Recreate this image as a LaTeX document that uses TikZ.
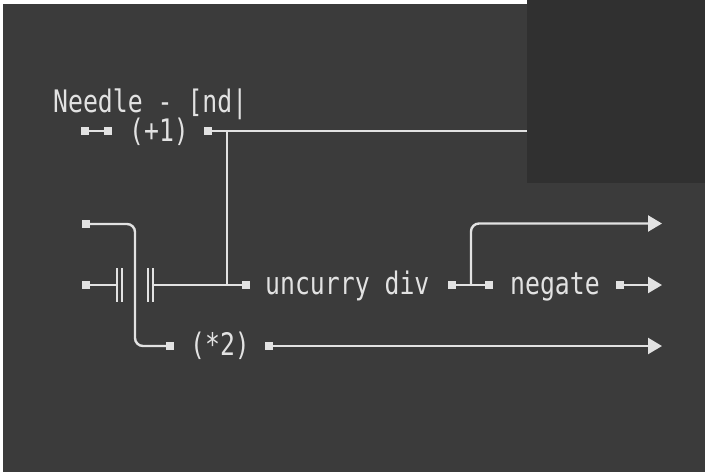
\documentclass[tikz,border=0pt]{standalone}
\usepackage{fontspec}
\usetikzlibrary{arrows.meta}
\newfontfamily\codefont[FakeStretch=0.80]{DejaVu Sans Mono}
\definecolor{bgc}{HTML}{3B3B3B}
\definecolor{panelc}{HTML}{303030}
\definecolor{fgc}{HTML}{E2E2E2}
\begin{document}
\begin{tikzpicture}[x=1pt,y=-1pt,
  port/.style={rectangle,fill=fgc,draw=none,minimum size=7.5pt,inner sep=0pt},
  lbl/.style={anchor=base west,inner sep=0pt,text=fgc,font=\codefont\fontsize{31}{36}\selectfont},
  wire/.style={draw=fgc,line width=2.4pt},
  arr/.style={wire,-{Triangle[length=14pt,width=16pt]}},
  capbar/.style={rectangle,draw=none,minimum width=5pt,minimum height=33pt,inner sep=0pt}]
% background
\fill[white] (0,0) rectangle (705,472);
\fill[bgc] (3,4) rectangle (705,472);
\useasboundingbox (0,0) rectangle (705,472);

% title
\node[lbl] (title) at (53,112) {Needle - [nd|};

% row 1
\node[port] (p1a) at (85,131) {};
\node[port] (p1b) at (108,131) {};
\node[lbl] (plus1) at (129,141) {(+1)};
\node[port] (p1c) at (208,131) {};
\coordinate (c1) at (560,131);
\coordinate (j1) at (227,131);
\draw[wire] (p1a) -- (p1b);
\draw[wire] (p1c) -- (c1);

% row 3 (middle)
\node[port] (p3a) at (86,285) {};
\node[capbar] (b1) at (119.5,285) {};
\node[capbar] (b2) at (150.5,285) {};
\node[port] (p3b) at (246,285) {};
\coordinate (j3) at (227,285);
\node[lbl] (uncurry) at (265,294) {uncurry div};
\node[port] (p3c) at (452,285) {};
\node[port] (p3d) at (489,285) {};
\coordinate (j4) at (471,285);
\node[lbl] (negate) at (510,294) {negate};
\node[port] (p3e) at (620,285) {};
\coordinate (e3) at (662,285);
\coordinate (e1) at (662,223.5);

\draw[wire] (p3a) -- (b1.west);
\draw[wire] (b1.north west) -- (b1.south west) (b1.north east) -- (b1.south east);
\draw[wire] (b2.north west) -- (b2.south west) (b2.north east) -- (b2.south east);
\draw[wire] (b2.east) -- (p3b);
\draw[wire] (j1) -- (j3);
\draw[wire] (p3c) -- (p3d);
\draw[arr,rounded corners=8pt] (j4) |- (e1);
\draw[arr] (p3e) -- (e3);

% row 2 and bottom
\node[port] (p2a) at (86,224) {};
\node[port] (p2b) at (170,346) {};
\coordinate (k2) at (135,346);
\node[lbl] (times2) at (190,355) {(*2)};
\node[port] (p2c) at (269,346) {};
\coordinate (e2) at (662,346);
\draw[wire,rounded corners=8pt] (p2a.center) -| (k2) -- (p2b);
\draw[arr] (p2c) -- (e2);

% panel on top
\fill[panelc] (527,0) rectangle (705,183);
\end{tikzpicture}
\end{document}
